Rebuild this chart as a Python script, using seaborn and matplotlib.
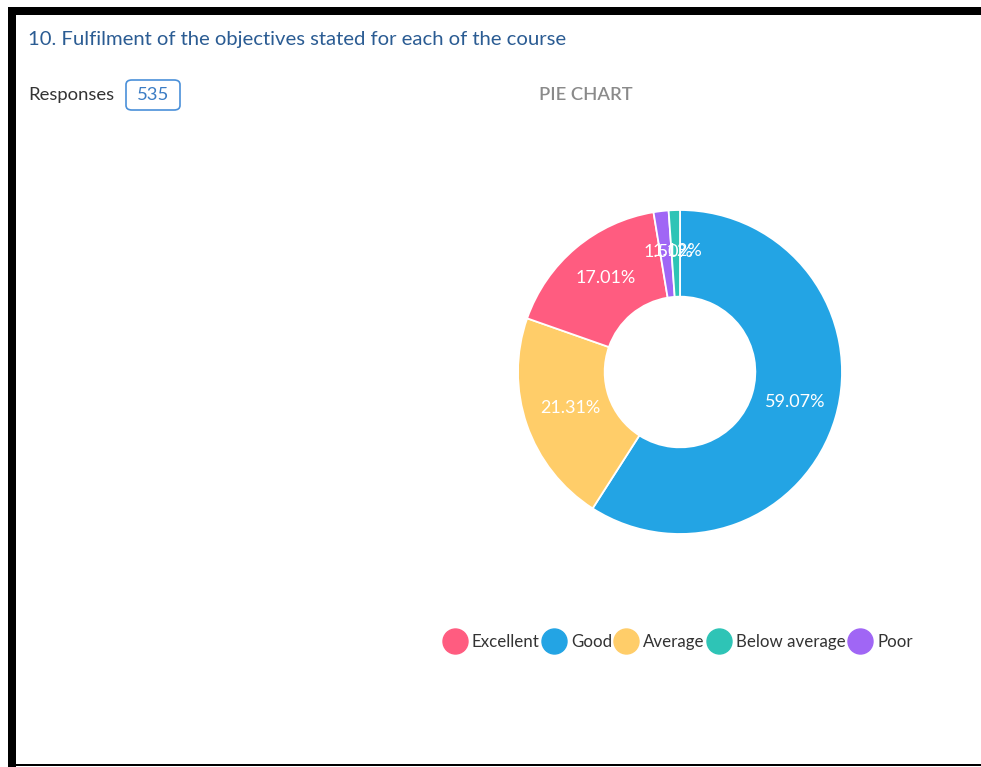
import matplotlib.pyplot as plt
import seaborn as sns
from matplotlib.lines import Line2D
from matplotlib.patches import Rectangle, FancyBboxPatch
import matplotlib.transforms as mtransforms

# --- data ---
title = "10. Fulfilment of the objectives stated for each of the course"
total_responses = 535
# order the slices are drawn in (clockwise from top)
slice_labels = ["Good", "Average", "Excellent", "Poor", "Below average"]
slice_counts = [316, 114, 91, 8, 6]
# legend order
legend_labels = ["Excellent", "Good", "Average", "Below average", "Poor"]

colors = {
    "Excellent": "#FF5C80",
    "Good": "#23A4E4",
    "Average": "#FFCD69",
    "Below average": "#2EC4B6",
    "Poor": "#A066F5",
}

sns.set_theme(style="white")
plt.rcParams["font.family"] = ["Lato", "DejaVu Sans"]

W, H = 981, 767
fig = plt.figure(figsize=(W / 100, H / 100), dpi=100)
fig.patch.set_facecolor("white")


def px(x, y):
    # image pixel (from top-left) -> figure fraction
    return x / W, 1 - y / H


# frame of the screenshot
fig.patches.append(Rectangle(px(8, 15), (W - 8) / W, 8 / H, transform=fig.transFigure,
                             facecolor="black", edgecolor="none"))
fig.patches.append(Rectangle(px(8, 767), 8 / W, 752 / H, transform=fig.transFigure,
                             facecolor="black", edgecolor="none"))
fig.patches.append(Rectangle(px(16, 766), (W - 16) / W, 2 / H, transform=fig.transFigure,
                             facecolor="black", edgecolor="none"))

# header texts
fig.text(*px(28, 40), title, fontsize=14.6, color="#2B5C93", va="center", ha="left")
fig.text(*px(28, 95), "Responses", fontsize=13.3, color="#333333", va="center", ha="left")
bx0, by0 = px(126, 110)
fig.patches.append(FancyBboxPatch((bx0, by0), 54 / W, 30 / H,
                                  boxstyle="round,pad=0,rounding_size=0.006",
                                  transform=fig.transFigure, facecolor="white",
                                  edgecolor="#4A90D9", linewidth=1.2))
fig.text(*px(153, 95), str(total_responses), fontsize=13.3, color="#3A7CC4",
         va="center", ha="center")
fig.text(*px(586, 95), "PIE CHART", fontsize=13.2, color="#8A8A8A", va="center",
         ha="center", fontweight="semibold")

# donut
cx, cy, r = 680, 372, 162
ax = fig.add_axes([(cx - r) / W, (H - cy - r) / H, 2 * r / W, 2 * r / H])
wedges, texts, autotexts = ax.pie(
    slice_counts,
    colors=[colors[k] for k in slice_labels],
    startangle=90,
    counterclock=False,
    radius=1,
    autopct="%.2f%%",
    pctdistance=0.73,
    wedgeprops=dict(width=0.535, edgecolor="white", linewidth=1.3),
    textprops=dict(color="white", fontsize=13),
)
# nudge the value labels up a few pixels, like the original
shift = mtransforms.ScaledTranslation(0.02, 0.03, fig.dpi_scale_trans)
for t in autotexts:
    t.set_transform(t.get_transform() + shift)
ax.set_xlim(-1, 1)
ax.set_ylim(-1, 1)
ax.set_aspect("equal")
ax.axis("off")

# legend
handles = [Line2D([0], [0], marker="o", linestyle="none", markersize=18,
                  markerfacecolor=colors[k], markeredgecolor=colors[k])
           for k in legend_labels]
fig.legend(handles, legend_labels, loc="center", bbox_to_anchor=px(677, 642),
           ncol=5, frameon=False, fontsize=12.2, handletextpad=0.2,
           columnspacing=0.05, handlelength=1.6, labelcolor="#333333")

fig.savefig("out.png", dpi=100)
